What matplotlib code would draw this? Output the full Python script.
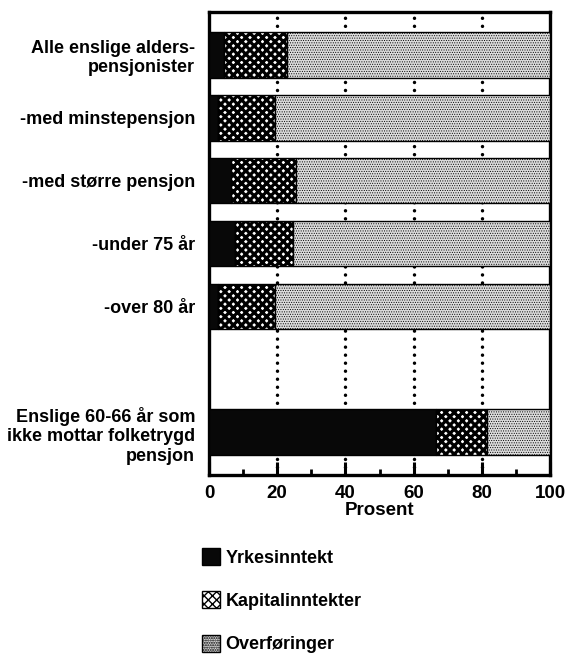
import matplotlib
matplotlib.use('Agg')
import matplotlib.pyplot as plt
from matplotlib.patches import Patch

categories = ["Alle enslige alders-\npensjonister", "-med minstepensjon", "-med større pensjon",
              "-under 75 år", "-over 80 år",
              "Enslige 60-66 år som\nikke mottar folketrygd\npensjon"]
yrkesinntekt = [4.5, 2.5, 6.5, 7.5, 2.5, 66.5]
kapitalinntekter = [18.5, 17.0, 19.0, 17.0, 17.0, 15.0]
overforinger = [77.0, 80.5, 74.5, 75.5, 80.5, 18.5]
series_names = ["Yrkesinntekt", "Kapitalinntekter", "Overføringer"]
xticks = [0, 20, 40, 60, 80, 100]
minor_xticks = [10, 30, 50, 70, 90]
xlabel = "Prosent"

plt.rcParams['font.family'] = ['Liberation Sans', 'DejaVu Sans']
plt.rcParams['font.weight'] = 'bold'

fig = plt.figure(figsize=(5.69, 6.60), dpi=100)
ax = fig.add_axes([209/569, 1 - 475/660, 341/569, 463/660])

# y positions: five groups, then a gap, then the last group
ypos = list(range(len(categories) - 1)) + [len(categories)]
h = 0.73

styles = [dict(facecolor='#080808', hatch=None, hlw=1.0),
          dict(facecolor='white', hatch='xxxx', hlw=2.3),
          dict(facecolor='#dcdcdc', hatch='.......', hlw=0.45)]

left = [0.0] * len(categories)
containers = []
for vals, st in zip([yrkesinntekt, kapitalinntekter, overforinger], styles):
    with plt.rc_context({'hatch.linewidth': st['hlw'], 'hatch.color': 'black'}):
        bc = ax.barh(ypos, vals, left=left, height=h, color=st['facecolor'],
                     edgecolor='black', linewidth=1.0, hatch=st['hatch'], zorder=3)
        for p in bc:
            if hasattr(p, 'set_hatch_linewidth'):
                p.set_hatch_linewidth(st['hlw'])
    containers.append(bc)
    left = [a + b for a, b in zip(left, vals)]

for xv in xticks[1:-1]:
    ax.axvline(xv, color='black', linestyle=(0, (0.01, 2.3)), linewidth=2.5,
               dash_capstyle='round', zorder=1)

ax.set_xlim(0, 100)
ax.set_ylim(len(categories) + 0.675, -0.675)
ax.set_yticks(ypos)
ax.set_yticklabels(categories, fontsize=13, fontweight='bold', ha='right',
                   multialignment='right')
ax.tick_params(axis='y', length=0, pad=10)
ax.set_xticks(xticks)
ax.set_xticks(minor_xticks, minor=True)
ax.tick_params(axis='x', which='major', direction='in', length=9.5, width=2.2,
               labelsize=13.5, pad=7)
ax.tick_params(axis='x', which='minor', direction='in', length=4.5, width=2.0)
for lab in ax.get_xticklabels():
    lab.set_fontweight('bold')
ax.set_xlabel(xlabel, fontsize=13.5, fontweight='bold', labelpad=0)
for s in ax.spines.values():
    s.set_linewidth(2.4)

handles = []
for st in styles:
    with plt.rc_context({'hatch.linewidth': st['hlw'], 'hatch.color': 'black'}):
        hp = Patch(facecolor=st['facecolor'], edgecolor='black', hatch=st['hatch'], linewidth=1.0)
        if hasattr(hp, 'set_hatch_linewidth'):
            hp.set_hatch_linewidth(st['hlw'])
    handles.append(hp)
leg = fig.legend(handles, series_names, loc='upper left',
                 bbox_to_anchor=(202/569, 1 - 548/660), frameon=False,
                 fontsize=13, handlelength=1.0, handleheight=1.05,
                 handletextpad=0.3, labelspacing=1.38, borderaxespad=0, borderpad=0)
for t in leg.get_texts():
    t.set_fontweight('bold')

fig.savefig('out.png', dpi=100)
